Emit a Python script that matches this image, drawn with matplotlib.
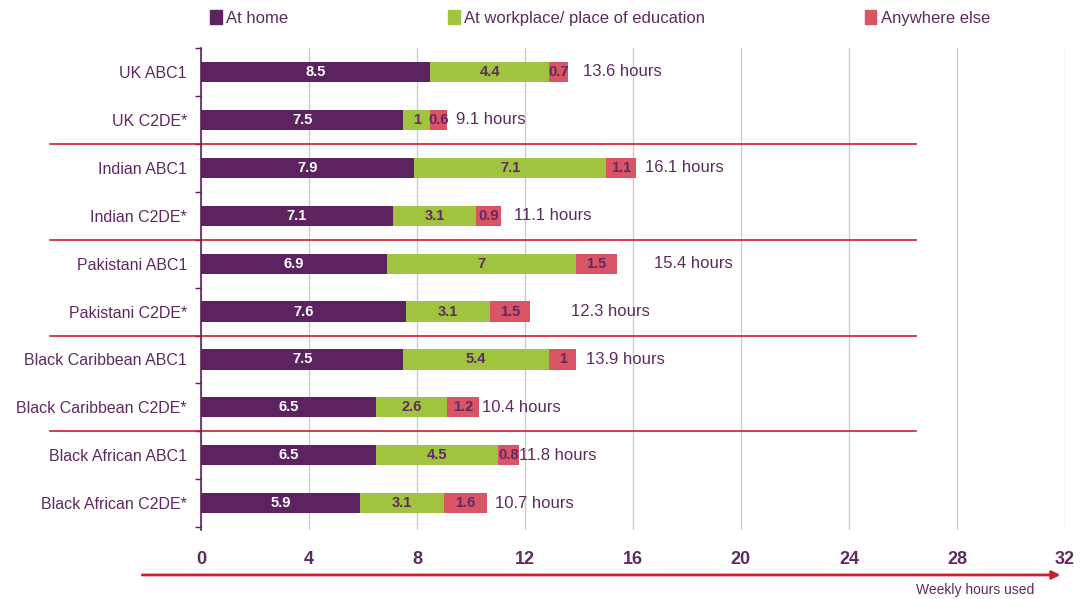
import matplotlib.pyplot as plt
from matplotlib.patches import Patch

categories = ['UK ABC1', 'UK C2DE*', 'Indian ABC1', 'Indian C2DE*',
              'Pakistani ABC1', 'Pakistani C2DE*', 'Black Caribbean ABC1',
              'Black Caribbean C2DE*', 'Black African ABC1', 'Black African C2DE*']
at_home = [8.5, 7.5, 7.9, 7.1, 6.9, 7.6, 7.5, 6.5, 6.5, 5.9]
at_work = [4.4, 1, 7.1, 3.1, 7, 3.1, 5.4, 2.6, 4.5, 3.1]
elsewhere = [0.7, 0.6, 1.1, 0.9, 1.5, 1.5, 1, 1.2, 0.8, 1.6]
totals = [13.6, 9.1, 16.1, 11.1, 15.4, 12.3, 13.9, 10.4, 11.8, 10.7]
x_ticks = [0, 4, 8, 12, 16, 20, 24, 28, 32]

# gap between bar end and the total label, in points (as in the original)
label_pad = [11, 7, 7, 10, 27, 29, 7, 2, 0, 6]

purple = '#5c2360'
green = '#a1c43f'
pink = '#d95465'
red = '#c8202e'
text_col = '#5f2a62'

plt.rcParams['font.family'] = ['Liberation Sans', 'DejaVu Sans']

fig = plt.figure(figsize=(10.8, 5.99), dpi=100)
ax = fig.add_axes([0.186, 0.115, 0.8, 0.805])

y = list(range(len(categories)))
h = 0.42
b1 = ax.barh(y, at_home, height=h, color=purple)
b2 = ax.barh(y, at_work, left=at_home, height=h, color=green)
left3 = [a + b for a, b in zip(at_home, at_work)]
b3 = ax.barh(y, elsewhere, left=left3, height=h, color=pink)

for bars, vals, col in [(b1, at_home, 'white'), (b2, at_work, text_col), (b3, elsewhere, text_col)]:
    for bar, v in zip(bars, vals):
        ax.text(bar.get_x() + bar.get_width() / 2, bar.get_y() + bar.get_height() / 2,
                f'{v:g}', ha='center', va='center', color=col,
                fontsize=10.5, fontweight='bold')

for yi, t, l3, e, pad in zip(y, totals, left3, elsewhere, label_pad):
    ax.annotate(f'{t:g} hours', (l3 + e, yi), xytext=(pad, 0),
                textcoords='offset points', ha='left', va='center',
                fontsize=12, color=text_col)

ax.set_xlim(0, 32)
ax.set_ylim(len(categories) - 0.44, -0.48)
ax.set_xticks(x_ticks)
ax.set_xticklabels([str(t) for t in x_ticks], fontsize=13, fontweight='bold', color=text_col)
ax.tick_params(axis='x', length=0, pad=15)
ax.set_yticks(y)
ax.set_yticklabels(categories, fontsize=11.5, color=text_col)
ax.tick_params(axis='y', which='major', length=0, pad=10)
ax.set_yticks([i + 0.5 for i in range(-1, len(categories))], minor=True)
ax.tick_params(axis='y', which='minor', length=4, color=purple, width=1)

ax.grid(axis='x', color='#cccccc', linewidth=1)
ax.set_axisbelow(True)
for s in ['top', 'right', 'bottom']:
    ax.spines[s].set_visible(False)
ax.spines['left'].set_color(purple)
ax.spines['left'].set_linewidth(1.2)

# red separators between groups
for sep in [1.5, 3.5, 5.5, 7.5]:
    ax.plot([-5.6, 26.5], [sep, sep], color=red, linewidth=1.2, clip_on=False)

# axis arrow
ax.annotate('', xy=(0.998, -0.093), xytext=(-0.071, -0.093), xycoords='axes fraction',
            arrowprops=dict(arrowstyle='-|>', color=red, lw=2, mutation_scale=12))
ax.text(0.965, -0.124, 'Weekly hours used', transform=ax.transAxes, ha='right',
        va='center', fontsize=10, color=text_col)

handles = [Patch(color=purple), Patch(color=green), Patch(color=pink)]
fig.legend(handles, ['At home', 'At workplace/ place of education', 'Anywhere else'],
           loc='center left', bbox_to_anchor=(0.1805, 0.97), ncol=3, frameon=False,
           handlelength=0.7, handleheight=0.9, handletextpad=0.25, columnspacing=9.6,
           labelcolor=text_col, prop={'size': 12})

fig.savefig('out.png', dpi=100)
